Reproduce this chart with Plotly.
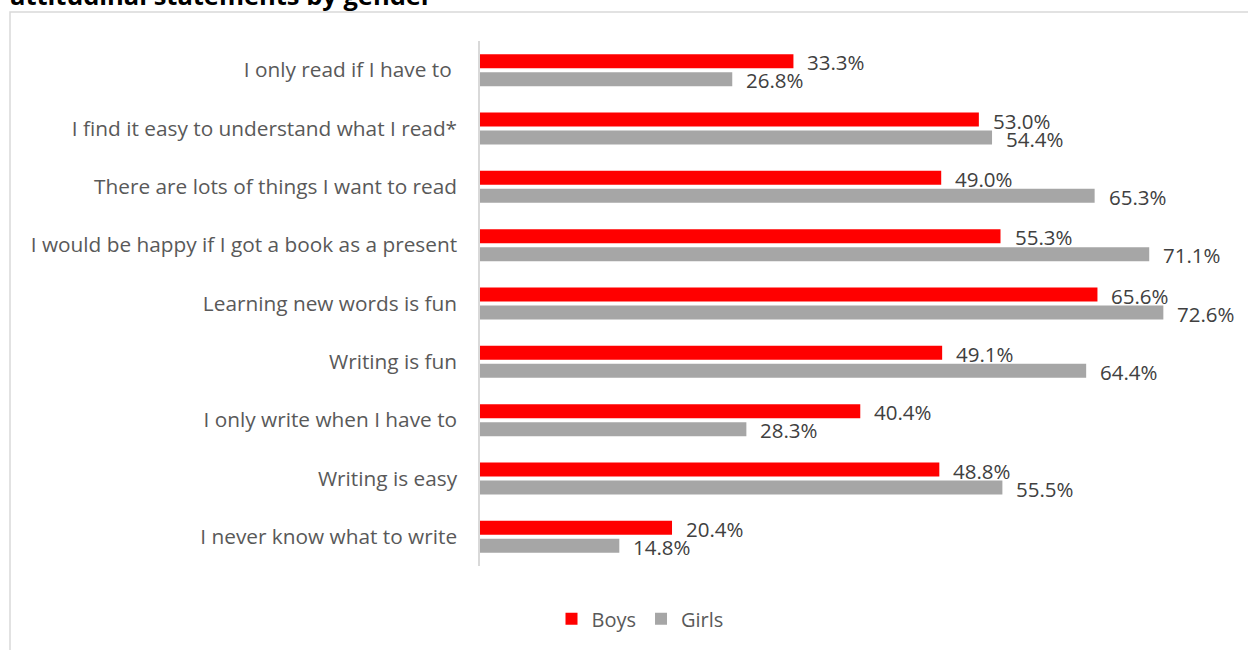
import plotly.graph_objects as go

categories = [
    "I only read if I have to ",
    "I find it easy to understand what I read*",
    "There are lots of things I want to read",
    "I would be happy if I got a book as a present",
    "Learning new words is fun",
    "Writing is fun",
    "I only write when I have to",
    "Writing is easy",
    "I never know what to write",
]
boys = [33.3, 53.0, 49.0, 55.3, 65.6, 49.1, 40.4, 48.8, 20.4]
girls = [26.8, 54.4, 65.3, 71.1, 72.6, 64.4, 28.3, 55.5, 14.8]
series_names = ["Boys", "Girls"]
series_colors = ["#ff0000", "#a6a6a6"]
title_text = "attitudinal statements by gender"

W, H = 1248, 650
L, R, T, B = 480, 15, 41, 82
pw, ph = W - L - R, H - T - B

def px_x(p):
    return (p - L) / pw

def px_y(p):
    return (H - B - p) / ph

fig = go.Figure()
for name, vals, col in zip(series_names, [boys, girls], series_colors):
    fig.add_trace(go.Bar(
        y=categories, x=vals, name=name, orientation="h",
        marker=dict(color=col, line=dict(width=0)),
        hoverinfo="x+y",
    ))

annotations = []
for vals, shift in [(boys, 8), (girls, -10)]:
    for c, v in zip(categories, vals):
        annotations.append(dict(
            x=v, y=c, xref="x", yref="y", text=f"{v:.1f}%",
            showarrow=False, xanchor="left", yanchor="middle",
            xshift=12, yshift=shift,
            font=dict(family="Open Sans", size=20.5, color="#404040"),
        ))

annotations.append(dict(
    x=px_x(8), y=px_y(-5), xref="paper", yref="paper",
    text="<b>" + title_text + "</b>", showarrow=False,
    xanchor="left", yanchor="middle",
    font=dict(family="Open Sans", size=25.5, color="#000000"),
))

fig.update_layout(
    width=W, height=H,
    margin=dict(l=L, r=R, t=T, b=B, pad=0),
    paper_bgcolor="white", plot_bgcolor="white",
    barmode="group", bargap=0.385, bargroupgap=0.22,
    xaxis=dict(range=[0, 80], visible=False, showgrid=False, zeroline=False),
    yaxis=dict(
        autorange="reversed", showgrid=False, zeroline=False,
        showline=True, linecolor="#d9d9d9", linewidth=1.5,
        ticks="", ticklabelstandoff=17,
        tickfont=dict(family="Open Sans", size=20.8, color="#595959"),
    ),
    legend=dict(
        orientation="h", x=px_x(640), y=px_y(621), xanchor="center", yanchor="middle",
        font=dict(family="Open Sans", size=20, color="#595959"),
        itemwidth=30, traceorder="normal",
    ),
    annotations=annotations,
    shapes=[dict(
        type="rect", xref="paper", yref="paper",
        x0=px_x(10), x1=px_x(1270), y0=px_y(700), y1=px_y(12),
        line=dict(color="#d9d9d9", width=1.5), fillcolor="rgba(0,0,0,0)", layer="below",
    )],
)

fig.write_html("out.html")
